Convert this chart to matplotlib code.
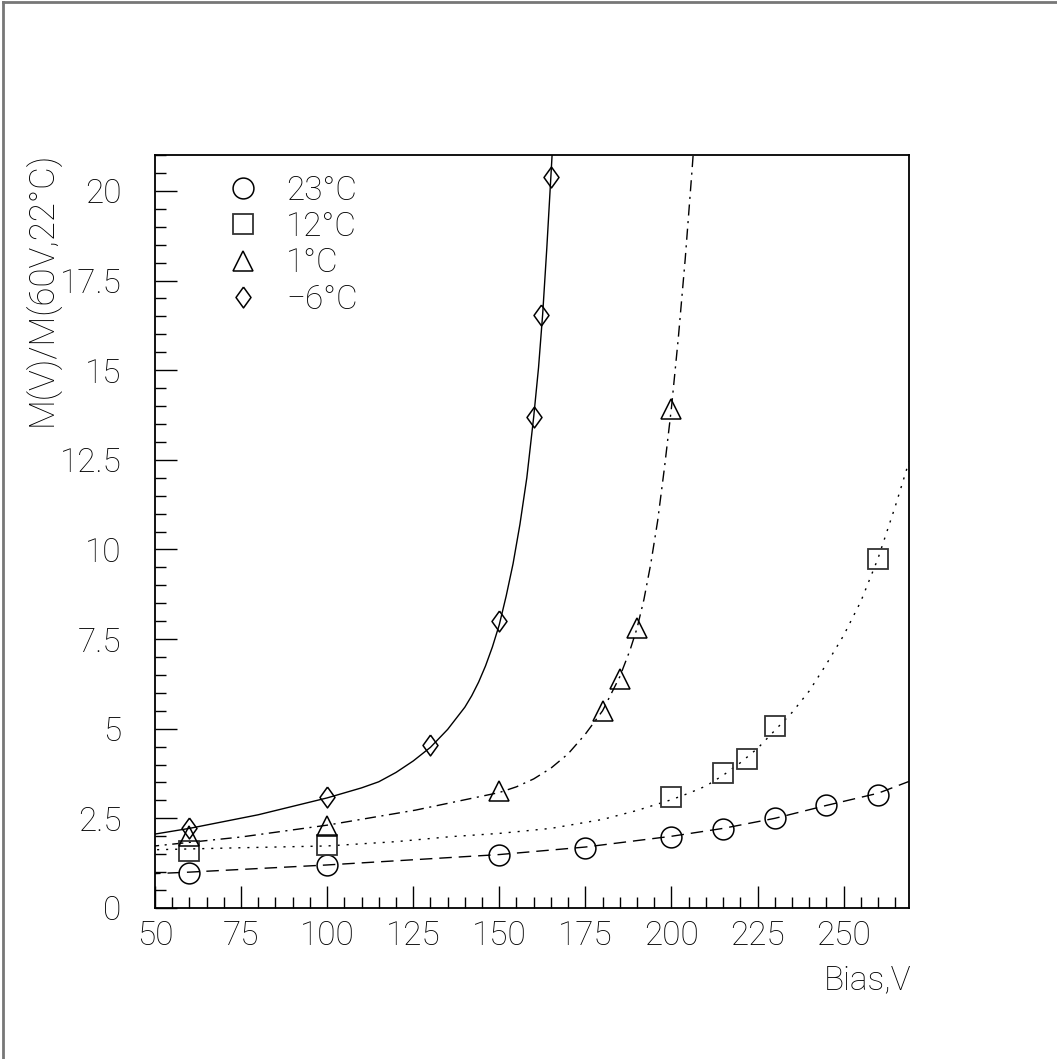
import matplotlib
matplotlib.use("Agg")
import matplotlib.pyplot as plt
from matplotlib.lines import Line2D

plt.rcParams['font.family'] = ['Roboto', 'DejaVu Sans']

# measured points
v_23 = [60, 100, 150, 175, 200, 215, 230, 245, 260]
m_23 = [0.98, 1.2, 1.49, 1.68, 1.98, 2.2, 2.5, 2.87, 3.14]
v_12 = [60, 100, 200, 215, 222, 230, 260]
m_12 = [1.6, 1.76, 3.09, 3.77, 4.15, 5.08, 9.72]
v_1 = [60, 100, 150, 180, 185, 190, 200]
m_1 = [2.0, 2.28, 3.26, 5.5, 6.38, 7.8, 13.93]
v_m6 = [60, 100, 130, 150, 160, 162, 165]
m_m6 = [2.23, 3.09, 4.54, 8.0, 13.7, 16.55, 20.4]

# fitted curves
fv_23 = [48, 60, 100, 150, 175, 200, 215, 230, 245, 260, 269]
fm_23 = [0.95, 1.0, 1.2, 1.49, 1.7, 2.0, 2.22, 2.5, 2.86, 3.2, 3.53]
fv_12 = [48, 75, 100, 120, 136, 150, 165, 180, 190, 200, 205, 210, 215, 220, 225, 230,
         235, 240, 245, 250, 255, 260, 265, 269]
fm_12 = [1.62, 1.68, 1.73, 1.85, 1.99, 2.08, 2.22, 2.47, 2.72, 3.02, 3.2, 3.4, 3.7, 4.05,
         4.45, 4.95, 5.45, 6.05, 6.8, 7.6, 8.55, 9.75, 11.2, 12.45]
fv_1 = [48, 75, 100, 125.7, 150, 155, 160, 165, 170, 175, 180, 185, 188, 190, 192, 194,
        196, 198, 200, 202, 204, 206, 206.3]
fm_1 = [1.71, 1.98, 2.31, 2.73, 3.22, 3.38, 3.6, 3.9, 4.3, 4.85, 5.5, 6.45, 7.2, 7.8,
        8.6, 9.6, 10.8, 12.3, 13.95, 15.9, 18.1, 20.6, 21.0]
fv_m6 = [48, 60, 80, 100, 110, 115, 120, 125, 130, 135, 140, 142, 144, 146, 148, 150,
         152, 154, 156, 158, 160, 161.4, 162.6, 163.8, 165.0, 165.6]
fm_m6 = [2.03, 2.22, 2.6, 3.07, 3.35, 3.52, 3.78, 4.1, 4.48, 4.98, 5.6, 5.92, 6.3, 6.75,
         7.28, 7.9, 8.7, 9.6, 10.7, 12.0, 13.7, 15.07, 16.56, 18.4, 20.42, 21.45]

labels = ['23°C', '12°C', '1°C', '−6°C']
x_ticks = [50, 75, 100, 125, 150, 175, 200, 225, 250]
y_ticks = [0, 2.5, 5, 7.5, 10, 12.5, 15, 17.5, 20]
y_tick_labels = ['0', '2.5', '5', '7.5', '10', '12.5', '15', '17.5', '20']

fig = plt.figure(figsize=(10.57, 10.59), dpi=100)
ax = fig.add_axes([0.1466, 0.1426, 0.7134, 0.711])

lw = 1.0
ax.plot(fv_23, fm_23, color='black', lw=lw, dashes=(9, 5))
ax.plot(fv_12, fm_12, color='black', lw=lw, dashes=(1.5, 5))
ax.plot(fv_1, fm_1, color='black', lw=lw, dashes=(8, 4, 1.5, 4))
ax.plot(fv_m6, fm_m6, color='black', lw=lw)

diamond = [(0, 1), (0.72, 0), (0, -1), (-0.72, 0), (0, 1)]
mk = dict(linestyle='none', mfc='none', mec='black', mew=1.1)
sq = dict(linestyle='none', mfc='none', mec='#333333', mew=1.3)
ax.plot(v_23, m_23, marker='o', ms=15, **mk)
ax.plot(v_12, m_12, marker='s', ms=15, **sq)
ax.plot(v_1, m_1, marker='^', ms=15, **mk)
ax.plot(v_m6, m_m6, marker=diamond, ms=15, **mk)

ax.set_xlim(50, 269)
ax.set_ylim(0, 21)
ax.set_xticks(x_ticks)
ax.set_xticks(range(55, 269, 5), minor=True)
ax.set_yticks(y_ticks)
ax.set_yticklabels(y_tick_labels)
ax.set_yticks([i * 0.5 for i in range(43)], minor=True)
ax.tick_params(which='both', direction='in', top=False, right=False,
               labelsize=24, width=1.0)
ax.tick_params(axis='x', which='major', length=16, pad=9)
ax.tick_params(axis='x', which='minor', length=8)
ax.tick_params(axis='y', which='major', length=16, pad=24)
ax.tick_params(axis='y', which='minor', length=8)
for lab in ax.get_xticklabels() + ax.get_yticklabels():
    lab.set_fontweight('light')
for s in ax.spines.values():
    s.set_linewidth(1.3)

handles = [
    Line2D([], [], marker='o', ms=15, **mk),
    Line2D([], [], marker='s', ms=15, **sq),
    Line2D([], [], marker='^', ms=15, **mk),
    Line2D([], [], marker=diamond, ms=15, **mk),
]
ax.legend(handles, labels, loc='upper left', bbox_to_anchor=(0.0946, 0.974),
          frameon=False, borderpad=0, borderaxespad=0, handlelength=1.0,
          handletextpad=0.79, labelspacing=0.13,
          prop={'size': 24, 'weight': 'light'})

fig.text(0.040, 0.857, 'M(V)/M(60V,22°C)', rotation=90, ha='center',
         va='top', fontsize=25, fontweight='light')
fig.text(0.862, 0.0746, 'Bias,V', ha='right', va='center', fontsize=24,
         fontweight='light')

# outer frame (left and top edges visible)
fig.add_artist(Line2D([0.003, 0.003], [0, 0.998], transform=fig.transFigure,
                      color='#777777', lw=2))
fig.add_artist(Line2D([0.003, 1.0], [0.998, 0.998], transform=fig.transFigure,
                      color='#777777', lw=2))

fig.savefig('out.png', dpi=100)
